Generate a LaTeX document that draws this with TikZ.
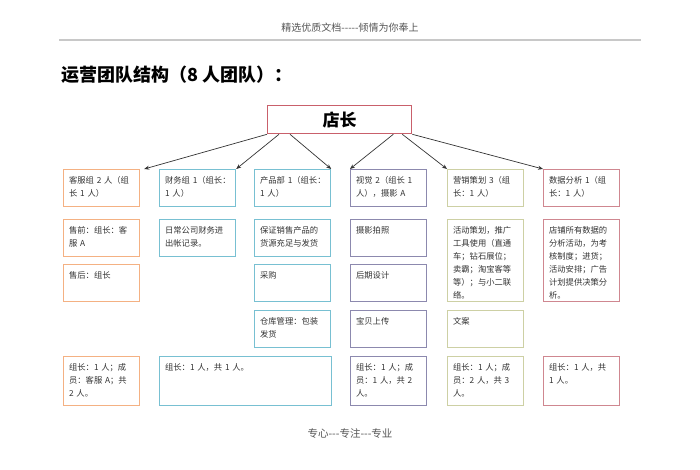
\documentclass[tikz,border=0pt]{standalone}
\usepackage{fontspec}
\newfontfamily\cjk{Noto Sans CJK SC}
\usetikzlibrary{arrows.meta}
\definecolor{kforange}{HTML}{F4B183}
\definecolor{cwblue}{HTML}{78C0D2}
\definecolor{sjpurple}{HTML}{8C89AE}
\definecolor{yxolive}{HTML}{CDD0A4}
\definecolor{fxred}{HTML}{CF8790}
\definecolor{bossred}{HTML}{C9606B}
\definecolor{linegray}{HTML}{C8C8C8}
\definecolor{textgray}{HTML}{555555}

\tikzset{
  cell/.style={draw=#1, line width=1.2pt, anchor=north west, text width=65pt,
    inner xsep=5.5pt, inner ysep=5pt, align=left, text height=8.5pt, text depth=18.5pt,
    font=\cjk\fontsize{8.3}{13}\selectfont, text=black!80},
  tall/.style={text depth=63.5pt},
  last/.style={text depth=30.5pt},
  arrow/.style={->, line width=0.7pt, draw=black!80},
}

\begin{document}
\begin{tikzpicture}[>={Stealth[length=5pt,width=4pt]},x=1pt,y=-1pt]
  \useasboundingbox (0,0) rectangle (700,470);
  % page header and footer
  \node[text=textgray, font=\cjk\fontsize{10}{12}\selectfont] (head) at (350,28) {精选优质文档-----倾情为你奉上};
  \draw[linegray, line width=1.4pt] (59,40) -- (641,40);
  \node[anchor=west, font=\cjk\bfseries\fontsize{18}{20}\selectfont] (title) at (58,75) {运营团队结构（8 人团队）：};
  \node[text=textgray, font=\cjk\fontsize{10.5}{12}\selectfont] (foot) at (350,433) {专心---专注---专业};

  % top
  \node[draw=bossred, line width=1.3pt, anchor=north west, minimum width=144pt, minimum height=28pt,
    font=\cjk\bfseries\fontsize{17}{20}\selectfont] (dz) at (267,105) {店长};

  % 客服
  \node[cell=kforange] (kf1) at (63,169) {客服组~2~人（组\\长~1~人）};
  \node[cell=kforange] (kf2) at (63,219) {售前：组长：客\\服~A};
  \node[cell=kforange] (kf3) at (63,264) {售后：组长};
  \node[cell=kforange, last] (kf5) at (63,356) {组长：1~人；成\\员：客服~A；共\\2~人。};

  % 财务
  \node[cell=cwblue] (cw1) at (159,169) {财务组~1（组长：\\1~人）};
  \node[cell=cwblue] (cw2) at (159,219) {日常公司财务进\\出帐记录。};
  \node[cell=cwblue, last, text width=161pt] (cw5) at (159,356) {组长：1~人，共~1~人。};

  % 产品
  \node[cell=cwblue] (cp1) at (254,169) {产品部~1（组长：\\1~人）};
  \node[cell=cwblue] (cp2) at (254,219) {保证销售产品的\\货源充足与发货};
  \node[cell=cwblue] (cp3) at (254,264) {采购};
  \node[cell=cwblue] (cp4) at (254,310) {仓库管理：包装\\发货};

  % 视觉
  \node[cell=sjpurple] (sj1) at (350,169) {视觉~2（组长~1\\人），摄影~A};
  \node[cell=sjpurple] (sj2) at (350,219) {摄影拍照};
  \node[cell=sjpurple] (sj3) at (350,264) {后期设计};
  \node[cell=sjpurple] (sj4) at (350,310) {宝贝上传};
  \node[cell=sjpurple, last] (sj5) at (350,356) {组长：1~人；成\\员：1~人，共~2\\人。};

  % 营销
  \node[cell=yxolive] (yx1) at (447,169) {营销策划~3（组\\长：1~人）};
  \node[cell=yxolive, tall] (yx2) at (447,219) {活动策划，推广\\工具使用（直通\\车；钻石展位；\\卖霸；淘宝客等\\等）；与小二联\\络。};
  \node[cell=yxolive] (yx4) at (447,310) {文案};
  \node[cell=yxolive, last] (yx5) at (447,356) {组长：1~人；成\\员：2~人，共~3\\人。};

  % 数据
  \node[cell=fxred] (fx1) at (543,169) {数据分析~1（组\\长：1~人）};
  \node[cell=fxred, tall] (fx2) at (543,219) {店铺所有数据的\\分析活动，为考\\核制度；进货；\\活动安排；广告\\计划提供决策分\\析。};
  \node[cell=fxred, last] (fx5) at (543,356) {组长：1~人，共\\1~人。};

  % arrows
  \draw[arrow] (dz.south west) -- ([xshift=4pt]kf1.north east);
  \draw[arrow] ([xshift=12pt]dz.south west) -- (cw1.north east);
  \draw[arrow] ([xshift=23pt]dz.south west) -- (cp1.north east);
  \draw[arrow] ([xshift=-19pt]dz.south east) -- (sj1.north west);
  \draw[arrow] ([xshift=-10pt]dz.south east) -- (yx1.north west);
  \draw[arrow] (dz.south east) -- (fx1.north west);
\end{tikzpicture}
\end{document}
